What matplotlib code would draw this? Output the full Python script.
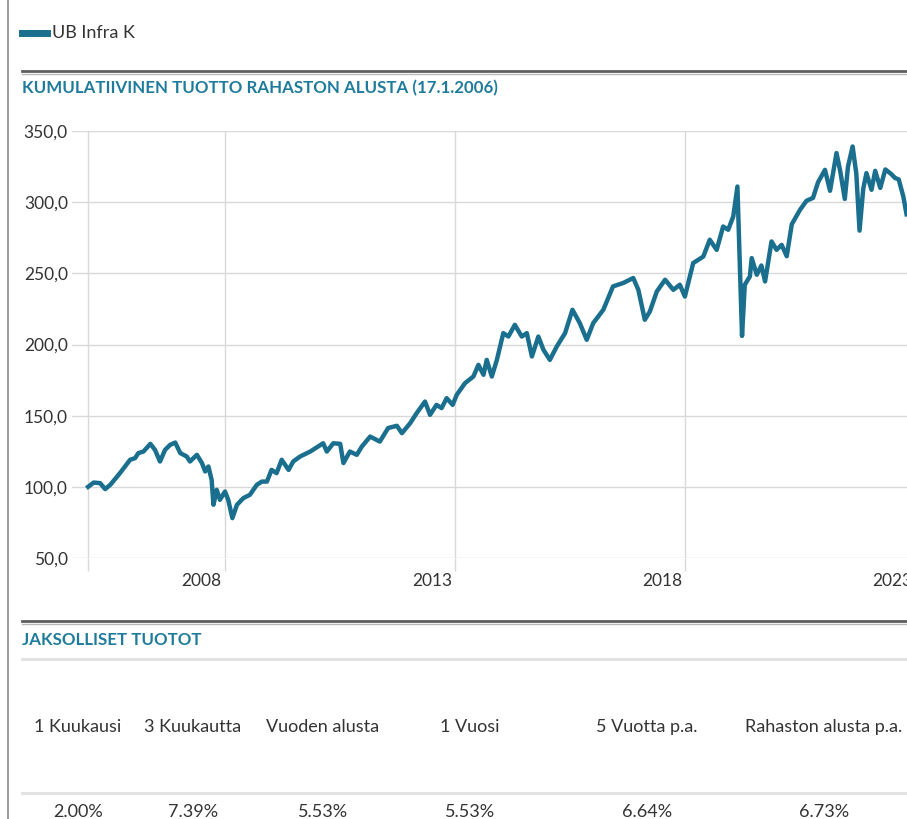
import matplotlib
matplotlib.use("Agg")
import matplotlib.pyplot as plt
from matplotlib.lines import Line2D
from matplotlib.ticker import FixedLocator, FuncFormatter

# Kumulatiivinen tuotto (indeksi, 17.1.2006 = 100), luettu kuvasta
years = [
    2006.04, 2006.16, 2006.30, 2006.41, 2006.52, 2006.73, 2006.95, 2007.06, 2007.13, 2007.24,
    2007.39, 2007.49, 2007.60, 2007.71, 2007.82, 2007.93, 2008.04, 2008.18, 2008.25, 2008.40,
    2008.51, 2008.58, 2008.65, 2008.72, 2008.76, 2008.83, 2008.90, 2009.01, 2009.08, 2009.17,
    2009.27, 2009.41, 2009.55, 2009.70, 2009.81, 2009.92, 2010.02, 2010.13, 2010.24, 2010.39,
    2010.49, 2010.64, 2010.86, 2011.14, 2011.22, 2011.36, 2011.51, 2011.58, 2011.72, 2011.87,
    2011.98, 2012.16, 2012.37, 2012.55, 2012.74, 2012.85, 2013.03, 2013.17, 2013.35, 2013.46,
    2013.60, 2013.71, 2013.82, 2013.95, 2014.04, 2014.22, 2014.40, 2014.51, 2014.62, 2014.69,
    2014.80, 2014.91, 2015.05, 2015.16, 2015.30, 2015.45, 2015.56, 2015.67, 2015.81, 2015.92,
    2016.06, 2016.21, 2016.39, 2016.55, 2016.71, 2016.86, 2017.00, 2017.22, 2017.43, 2017.65,
    2017.87, 2017.98, 2018.12, 2018.23, 2018.38, 2018.56, 2018.74, 2018.88, 2018.99, 2019.17,
    2019.39, 2019.53, 2019.68, 2019.82, 2019.93, 2020.04, 2020.13, 2020.23, 2020.29, 2020.40,
    2020.44, 2020.55, 2020.65, 2020.73, 2020.87, 2020.98, 2021.09, 2021.20, 2021.31, 2021.49,
    2021.63, 2021.77, 2021.88, 2022.03, 2022.14, 2022.28, 2022.36, 2022.46, 2022.53, 2022.63,
    2022.71, 2022.78, 2022.86, 2022.93, 2023.04, 2023.12, 2023.23, 2023.34, 2023.46, 2023.55,
    2023.63, 2023.73, 2023.80,
]
values = [
    100.0, 103.0, 102.6, 98.4, 101.4, 109.6, 119.0, 120.2, 123.7, 124.8,
    130.2, 126.0, 117.8, 126.0, 129.5, 131.1, 123.7, 121.3, 117.8, 122.5,
    116.7, 110.8, 114.3, 104.9, 87.4, 97.9, 90.9, 96.7, 90.9, 78.0,
    87.4, 92.1, 94.4, 101.4, 103.7, 103.7, 111.9, 109.6, 119.0, 111.9,
    117.8, 121.3, 124.8, 130.6, 124.8, 130.6, 130.2, 116.7, 124.8, 122.5,
    128.3, 135.3, 131.8, 141.3, 142.9, 137.7, 144.8, 151.8, 159.9, 150.6,
    157.6, 155.3, 162.3, 157.6, 164.7, 172.9, 177.5, 185.7, 178.7, 189.2,
    177.5, 189.2, 208.0, 205.6, 213.8, 205.6, 208.0, 191.6, 205.6, 196.3,
    189.2, 198.6, 208.0, 224.4, 215.0, 203.3, 215.0, 224.4, 240.8, 243.2,
    246.7, 238.4, 217.4, 223.2, 237.2, 245.5, 238.4, 242.0, 233.7, 257.2,
    261.8, 273.6, 266.5, 282.9, 280.6, 290.0, 311.0, 206.0, 242.0, 247.8,
    260.7, 249.0, 255.5, 244.3, 272.4, 266.5, 270.0, 262.0, 284.5, 294.7,
    301.0, 303.0, 314.0, 322.7, 308.0, 334.5, 322.0, 302.3, 325.1, 339.1,
    320.0, 280.0, 309.3, 320.4, 308.7, 322.0, 310.0, 323.0, 320.0, 317.0,
    316.0, 304.0, 291.5,
]

y_ticks = [50, 100, 150, 200, 250, 300, 350]
x_grid = [2006.04, 2009.0, 2014.0, 2019.0, 2024.0]
x_label_pos = [2008.5, 2013.5, 2018.5, 2023.5]
x_labels = ["2008", "2013", "2018", "2023"]

periods = ["1 Kuukausi", "3 Kuukautta", "Vuoden alusta", "1 Vuosi",
           "5 Vuotta p.a.", "Rahaston alusta p.a."]
returns = ["2.00%", "7.39%", "5.53%", "5.53%", "6.64%", "6.73%"]

TEAL = "#1a6f8e"
TITLE_TEAL = "#1f7b9c"
TEXT = "#333333"
GRID = "#d9d9d9"

W, H = 907, 819
plt.rcParams["font.family"] = ["Lato", "DejaVu Sans"]

fig = plt.figure(figsize=(W / 100, H / 100), dpi=100)


def fx(px):
    return px / W


def fy(py):
    return 1 - py / H


def hline(py, x0, x1, color, lw):
    fig.add_artist(Line2D([fx(x0), fx(x1)], [fy(py), fy(py)], color=color,
                          linewidth=lw, transform=fig.transFigure))


# vasen reunaviiva
fig.add_artist(Line2D([fx(8), fx(8)], [0, 1], color="#8a8a8a", linewidth=1.2,
                      transform=fig.transFigure))

# selite
fig.add_artist(Line2D([fx(22), fx(47)], [fy(33), fy(33)], color=TEAL,
                      linewidth=5, transform=fig.transFigure))
fig.text(fx(52), fy(33), "UB Infra K", fontsize=13, color=TEXT, va="center")

# otsikko + viivat
hline(71, 22, 907, "#5f5f5f", 2.0)
hline(74, 22, 907, "#b8b8b8", 1.0)
fig.text(fx(22), fy(88), "KUMULATIIVINEN TUOTTO RAHASTON ALUSTA (17.1.2006)",
         fontsize=12.2, fontweight="bold", color=TITLE_TEAL, va="center")

# kuvaaja
ax = fig.add_axes([fx(72), fy(558), fx(907) - fx(72), fy(131) - fy(558)])
ax.plot(years, values, color=TEAL, linewidth=3.2, solid_joinstyle="round",
        clip_on=False)
ax.set_xlim(2005.69, 2023.81)
ax.set_ylim(50, 350)

ax.yaxis.set_major_locator(FixedLocator(y_ticks))
ax.yaxis.set_major_formatter(FuncFormatter(lambda v, p: f"{v:.1f}".replace(".", ",")))
ax.xaxis.set_major_locator(FixedLocator(x_grid))
ax.xaxis.set_major_formatter(FuncFormatter(lambda v, p: ""))
ax.xaxis.set_minor_locator(FixedLocator(x_label_pos))
ax.set_xticklabels(x_labels, minor=True)

ax.grid(True, which="major", color=GRID, linewidth=1.0)
ax.set_axisbelow(True)
for s in ax.spines.values():
    s.set_visible(False)
ax.tick_params(axis="y", length=0, pad=3, labelsize=12.5, labelcolor=TEXT)
ax.tick_params(axis="x", which="major", length=9, width=1.0, color=GRID)
ax.tick_params(axis="x", which="minor", length=0, pad=11, labelsize=12.5,
               labelcolor=TEXT)

# jaksolliset tuotot
hline(621, 22, 907, "#5f5f5f", 2.0)
hline(624, 22, 907, "#b8b8b8", 1.0)
fig.text(fx(22), fy(640), "JAKSOLLISET TUOTOT", fontsize=12.2,
         fontweight="bold", color=TITLE_TEAL, va="center")
hline(659, 22, 907, "#e0e0e0", 2.0)
hline(793, 22, 907, "#e0e0e0", 2.0)

period_x = [78, 193, 323, 470, 647, 824]
for cx, name, val in zip(period_x, periods, returns):
    fig.text(fx(cx), fy(727), name, fontsize=13, color=TEXT,
             ha="center", va="center")
    fig.text(fx(cx), fy(812), val, fontsize=13, color=TEXT,
             ha="center", va="center")

fig.savefig("out.png", dpi=100, facecolor="white")
